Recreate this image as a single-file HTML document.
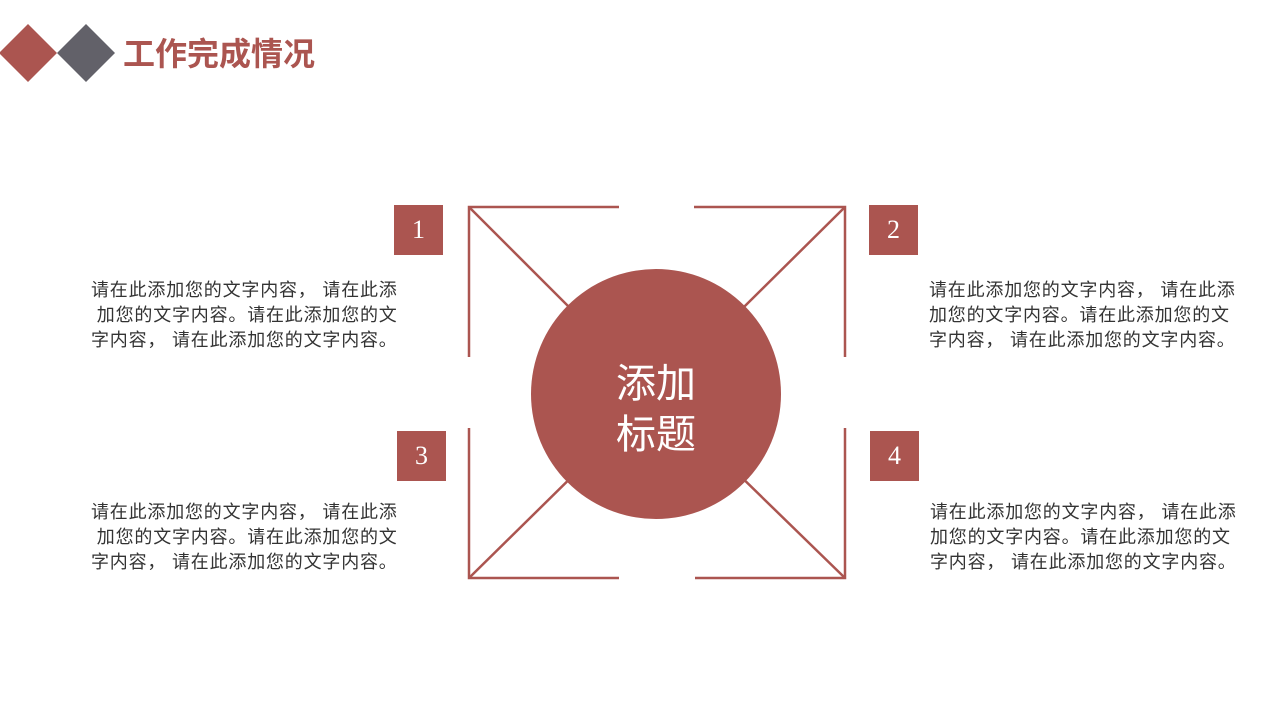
<!DOCTYPE html>
<html><head><meta charset="utf-8"><style>
body{margin:0;width:1280px;height:720px;background:#fff;position:relative;overflow:hidden;font-family:"Liberation Sans","Noto Sans CJK SC",sans-serif}
.t{position:absolute;font-size:18px;line-height:25px;color:#333;white-space:nowrap;letter-spacing:0.8px}
.b{position:absolute;width:49px;height:50px;background:#ab5550;color:#fff;font-family:"Liberation Serif",serif;font-size:26px;line-height:50px;text-align:center}
</style></head><body>
<svg width="1280" height="720" style="position:absolute;left:0;top:0">
<polygon points="28,24 57,53 28,82 -1,53" fill="#ab5550"/>
<polygon points="86,24 115,53 86,82 57,53" fill="#626169"/>
<g stroke="#ab5550" stroke-width="2.5" fill="none">
<polyline points="619,207 469,207 469,357"/>
<polyline points="694,207 845,207 845,357"/>
<polyline points="469,428 469,578 619,578"/>
<polyline points="845,428 845,578 695,578"/>
<line x1="469" y1="207" x2="656" y2="394"/>
<line x1="845" y1="207" x2="656" y2="394"/>
<line x1="469" y1="578" x2="656" y2="394"/>
<line x1="845" y1="578" x2="656" y2="394"/>
</g>
<circle cx="656" cy="394" r="125" fill="#ab5550"/>
<text x="656" y="397" text-anchor="middle" fill="#fff" font-size="40" font-family="Liberation Sans,Noto Sans CJK SC,sans-serif">添加</text>
<text x="656" y="448" text-anchor="middle" fill="#fff" font-size="40" font-family="Liberation Sans,Noto Sans CJK SC,sans-serif">标题</text>
</svg>
<div style="position:absolute;left:123px;top:33px;font-size:32px;font-weight:bold;color:#ab5550;line-height:42px">工作完成情况</div>
<div class="b" style="left:394px;top:205px">1</div>
<div class="b" style="left:869px;top:205px">2</div>
<div class="b" style="left:397px;top:431px">3</div>
<div class="b" style="left:870px;top:431px">4</div>
<div class="t" style="left:91px;top:278px">请在此添加您的文字内容，&nbsp;请在此添<br>&nbsp;加您的文字内容。请在此添加您的文<br>字内容，&nbsp;请在此添加您的文字内容。</div>
<div class="t" style="left:929px;top:278px">请在此添加您的文字内容，&nbsp;请在此添<br>加您的文字内容。请在此添加您的文<br>字内容，&nbsp;请在此添加您的文字内容。</div>
<div class="t" style="left:91px;top:500px">请在此添加您的文字内容，&nbsp;请在此添<br>&nbsp;加您的文字内容。请在此添加您的文<br>字内容，&nbsp;请在此添加您的文字内容。</div>
<div class="t" style="left:930px;top:500px">请在此添加您的文字内容，&nbsp;请在此添<br>加您的文字内容。请在此添加您的文<br>字内容，&nbsp;请在此添加您的文字内容。</div>
</body></html>
